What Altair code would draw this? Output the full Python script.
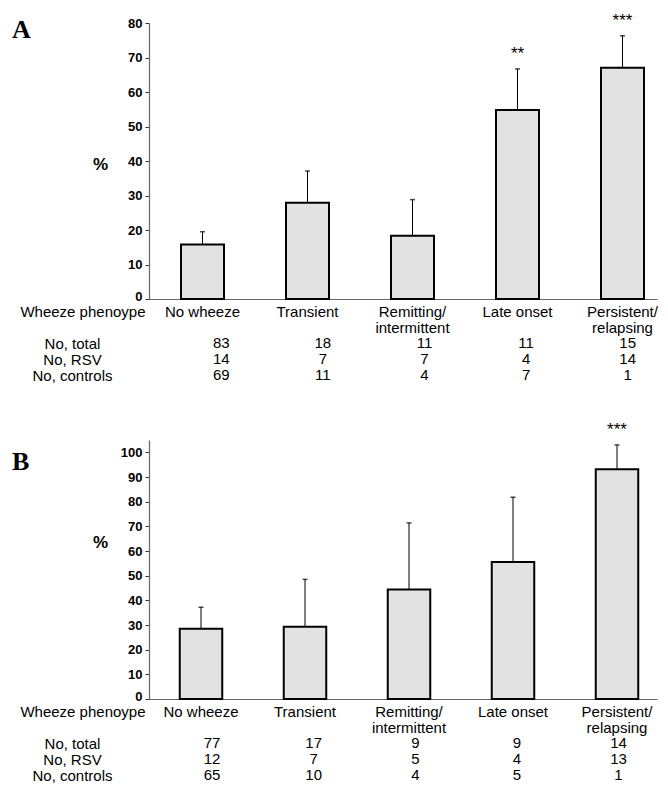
import altair as alt
import pandas as pd

categories = ["No wheeze", "Transient", "Remitting/intermittent", "Late onset", "Persistent/relapsing"]
row_names = ["No, total", "No, RSV", "No, controls"]

# Panel A
pct_a = [15.8, 27.9, 18.3, 54.8, 67.0]
err_a = [19.5, 37.1, 28.8, 66.7, 76.3]
sig_a = ["", "", "", "**", "***"]
total_a = [83, 18, 11, 11, 15]
rsv_a = [14, 7, 7, 4, 14]
controls_a = [69, 11, 4, 7, 1]
ticks_a = [0, 10, 20, 30, 40, 50, 60, 70, 80]

# Panel B
pct_b = [28.5, 29.3, 44.4, 55.5, 93.1]
err_b = [37.2, 48.5, 71.4, 81.8, 103.0]
sig_b = ["", "", "", "", "***"]
total_b = [77, 17, 9, 9, 14]
rsv_b = [12, 7, 5, 4, 13]
controls_b = [65, 10, 4, 5, 1]
ticks_b = [0, 10, 20, 30, 40, 50, 60, 70, 80, 90, 100]

FONT = "Liberation Sans"
W = 508
N = len(categories)


def band_scale(step, bw, b0):
    pi = 1 - bw / step
    po = (W / step - N + pi) / 2
    al = b0 / (W - step * (N - pi))
    return alt.Scale(domain=categories, paddingInner=pi, paddingOuter=po,
                     align=al, round=False)


def panel(letter, pct, err, sig, total, rsv, controls, ymax, yticks, height,
          step, bw, b0, pct_title_y, letter_y):
    df = pd.DataFrame({"cat": categories, "pct": pct, "err": err, "sig": sig})
    xscale = band_scale(step, bw, b0)
    yscale = alt.Scale(domain=[0, ymax], nice=False, zero=True)
    x_axis = alt.Axis(
        title="Wheeze phenoype",
        labelExpr="split(replace(datum.label, '/', '/~'), '~')",
        labelAngle=0, labelAlign="center", labelBaseline="top",
        ticks=False, domainColor="#666666", domainWidth=1.2,
        labelFontSize=15, labelPadding=5, labelLineHeight=16, labelColor="black",
        labelFont=FONT, labelOverlap=False,
        titleX=-4, titleY=5, titleAlign="right", titleBaseline="top",
        titleFontWeight="normal", titleFontSize=15, titleColor="black", titleFont=FONT,
    )
    y_axis = alt.Axis(
        values=yticks, tickCount=len(yticks), title="%", titleAngle=0, titleX=-49,
        titleY=pct_title_y, titleAlign="center", titleBaseline="middle",
        titleFontSize=17, titleFontWeight="bold", titleColor="black", titleFont=FONT,
        labelFontWeight="bold", labelFontSize=13, labelColor="black", labelFont=FONT,
        labelOffset={"condition": {"test": "datum.value === 0", "value": -3}, "value": 0},
        labelOverlap=False, grid=False, tickSize=4, labelPadding=3,
        domainColor="#666666", tickColor="#333333", domainWidth=1.2,
    )
    xe = alt.X("cat:N", scale=xscale, axis=x_axis)
    base = alt.Chart(df)
    bars = base.mark_bar(fill="#e2e2e2", stroke="black", strokeWidth=2).encode(
        x=xe, y=alt.Y("pct:Q", scale=yscale, axis=y_axis))
    rule = base.mark_rule(color="black", strokeWidth=1).encode(
        x=xe, y=alt.Y("pct:Q", scale=yscale, axis=y_axis), y2="err:Q")
    cap = base.mark_tick(color="black", size=5, thickness=1.5).encode(
        x=xe, y=alt.Y("err:Q", scale=yscale, axis=y_axis))
    stars = base.mark_text(dy=-15, fontSize=17, font=FONT, baseline="middle").encode(
        x=xe, y=alt.Y("err:Q", scale=yscale, axis=y_axis), text="sig:N")
    lab = alt.Chart(pd.DataFrame({"t": [letter]})).mark_text(
        align="left", baseline="middle", font="Liberation Serif", fontSize=26,
        fontWeight="bold").encode(x=alt.value(-137), y=alt.value(letter_y), text="t:N")
    chart = alt.layer(bars, rule, cap, stars, lab).properties(width=W, height=height)

    rows = []
    for i, c in enumerate(categories):
        rows.append({"cat": c, "row": row_names[0], "n": total[i]})
        rows.append({"cat": c, "row": row_names[1], "n": rsv[i]})
        rows.append({"cat": c, "row": row_names[2], "n": controls[i]})
    tdf = pd.DataFrame(rows)
    table = alt.Chart(tdf).mark_text(fontSize=15, font=FONT, color="black").encode(
        x=alt.X("cat:N", scale=band_scale(step, bw, b0), axis=None),
        y=alt.Y("row:N", scale=alt.Scale(domain=row_names, paddingInner=0, paddingOuter=0),
                axis=alt.Axis(title=None, domain=False, ticks=False, labelAlign="center",
                              labelPadding=77, labelFontSize=15, labelColor="black",
                              labelFont=FONT)),
        text="n:Q",
    ).properties(width=W, height=48)
    return alt.vconcat(chart, table, spacing=0)


pa = panel("A", pct_a, err_a, sig_a, total_a, rsv_a, controls_a, 80, ticks_a, 276,
           105, 43, 32, 141, 7)
pb = panel("B", pct_b, err_b, sig_b, total_b, rsv_b, controls_b, 105, ticks_b, 259,
           104, 42.5, 30.75, 102, 22)

chart = alt.vconcat(pa, pb, spacing=37).properties(
    padding={"left": 4, "top": 3, "right": 0, "bottom": 0},
    background="white",
).configure_view(stroke=None)

chart.save("out.html", embed_options={"renderer": "svg", "actions": False})
